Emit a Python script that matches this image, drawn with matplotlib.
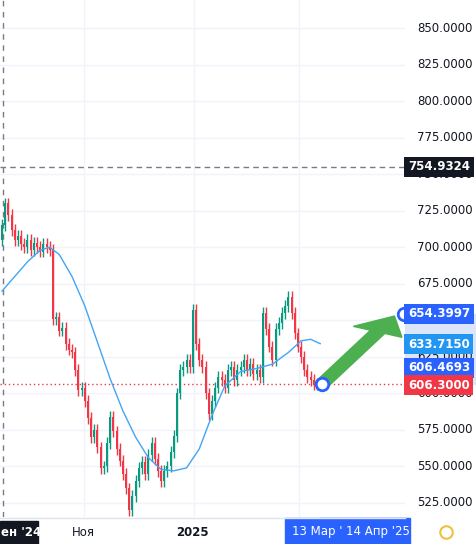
import matplotlib
matplotlib.use("Agg")
import matplotlib.pyplot as plt
from matplotlib.patches import FancyArrow

# closing prices, one candle per slot
closes = [715, 730, 722, 712, 705, 708, 702, 700, 705, 698, 703, 700, 697, 702, 700, 698,
          651, 652, 643, 645, 634, 630, 628, 616, 602, 604, 595,
          583, 570, 575, 563, 549, 550, 566, 584, 574, 562, 554, 545, 535, 520, 530,
          540, 549, 553, 545, 558, 566, 555, 547, 540, 547, 550, 560, 571,
          600, 616, 618, 623, 618, 657, 634, 623, 618, 600, 586, 595, 604, 611, 609,
          604, 616, 618, 609, 616, 618, 623, 616, 620, 613, 616, 611, 655, 644, 632,
          623, 644, 648, 655, 660, 666, 655, 641, 632, 625, 616, 611, 609, 606, 606.3]
first_open = 705
wick = 4

# moving average (sparse points, candle index -> value)
ma_idx = [0, 4, 8, 12, 15, 18, 22, 26, 30, 34, 38, 42, 46, 50, 54, 58, 62, 66, 70, 75, 80, 85, 90, 94, 97, 100]
ma_val = [670, 680, 690, 698, 700, 695, 680, 660, 635, 610, 588, 570, 556, 548, 547, 549, 562, 585, 605, 615, 617, 620, 628, 636, 637, 634]

yticks = [525, 550, 575, 600, 625, 650, 675, 700, 725, 750, 775, 800, 825, 850]
last_price = 606.30
ma_last = 633.715
target = 654.3997
entry = 606.4693
hline = 754.9324

W, H = 476, 544
n = len(closes)
step = 315 / (n - 1)  # pixel spacing of candles
fig = plt.figure(figsize=(W / 100, H / 100), dpi=100)
ax = fig.add_axes([0, 27 / H, 405 / W, 517 / H])
ax.set_ylim(515.4, 869.2)
ax.set_xlim(-2 / step, 403 / step)
for s in ax.spines.values():
    s.set_visible(False)
ax.set_xticks([])
ax.set_yticks([])

for t in yticks:
    ax.axhline(t, color="#f0f3fa", lw=1, zorder=0)
for gx in [82, 192, 297]:
    ax.axvline(gx / step, color="#f0f3fa", lw=1, zorder=0)

green, red = "#089981", "#f23645"
prev = first_open
for i, c in enumerate(closes):
    o = prev
    col = green if c >= o else red
    ax.vlines(i, min(o, c) - wick, max(o, c) + wick, color=col, lw=1, zorder=2)
    ax.bar(i, max(abs(c - o), 0.8), bottom=min(o, c), width=0.65, color=col, zorder=3)
    prev = c

ax.plot(ma_idx, ma_val, color="#42a5f5", lw=1, zorder=4)
ax.axhline(hline, color="#787b86", lw=1, ls=(0, (4, 3)), zorder=1)
ax.axhline(last_price, color=red, lw=1, ls=(0, (1, 2)), zorder=1)
ax.axvline(0.3, color="#787b86", lw=1, ls=(0, (4, 4)), zorder=1)

# arrow
x0, x1 = n - 1 + 1.5, 402 / step
ax.add_patch(FancyArrow(x0, last_price, x1 - x0 - 3, target - last_price - 1.5,
                        width=5, head_width=17, head_length=12, length_includes_head=True,
                        color="#4caf50", zorder=5))
ax.plot([x0, x1], [last_price, target], "o", ms=9, mfc="white", mec="#2962ff", mew=2,
        zorder=6, clip_on=False)

# price axis
pax = fig.add_axes([405 / W, 27 / H, 71 / W, 517 / H])
pax.set_ylim(515.4, 869.2)
pax.set_xlim(0, 71)
pax.axis("off")
pax.axhspan(entry, target, color="#dbe6fb", zorder=0)
for t in yticks:
    pax.text(12, t, f"{t:.4f}", va="center", ha="left", fontsize=8.5, color="#131722")
labels = [(hline, hline, "#131722"), (target, target, "#2962ff"), (ma_last, ma_last, "#2196f3"),
          (617.5, entry, "#2962ff"), (605.7, last_price, red)]
for ypos, val, bg in labels:
    pax.text(3, ypos, f"{val:.4f}", va="center", ha="left", fontsize=8.5, color="white",
             fontweight="bold", zorder=3,
             bbox=dict(boxstyle="square,pad=0.3", fc=bg, ec="none"))

# time axis
tax = fig.add_axes([0, 0, 1, 27 / H])
tax.set_xlim(0, W)
tax.set_ylim(27, 0)
tax.axis("off")
tax.axhline(0.5, xmax=405 / W, color="#e0e3eb", lw=1)
tax.axvspan(320, 405, color="#dbe6fb", zorder=0)
tax.add_patch(plt.Rectangle((0, 4), 38, 23, color="#131722"))
tax.text(1, 15, "ен '24", color="white", fontsize=8.5, va="center", fontweight="bold")
tax.text(83, 15, "Ноя", color="#131722", fontsize=8.5, va="center", ha="center")
tax.text(192, 15, "2025", color="#131722", fontsize=8.5, va="center", ha="center",
         fontweight="bold")
tax.add_patch(plt.Rectangle((285, 1), 125, 26, color="#2962ff"))
tax.text(292, 15, "13 Мар '", color="white", fontsize=8.5, va="center")
tax.text(346, 15, "14 Апр '25", color="white", fontsize=8.5, va="center")
tax.plot(446, 15, "o", ms=9, mfc="none", mec="#f0c040", mew=1.5)

fig.savefig("out.png", dpi=100)
